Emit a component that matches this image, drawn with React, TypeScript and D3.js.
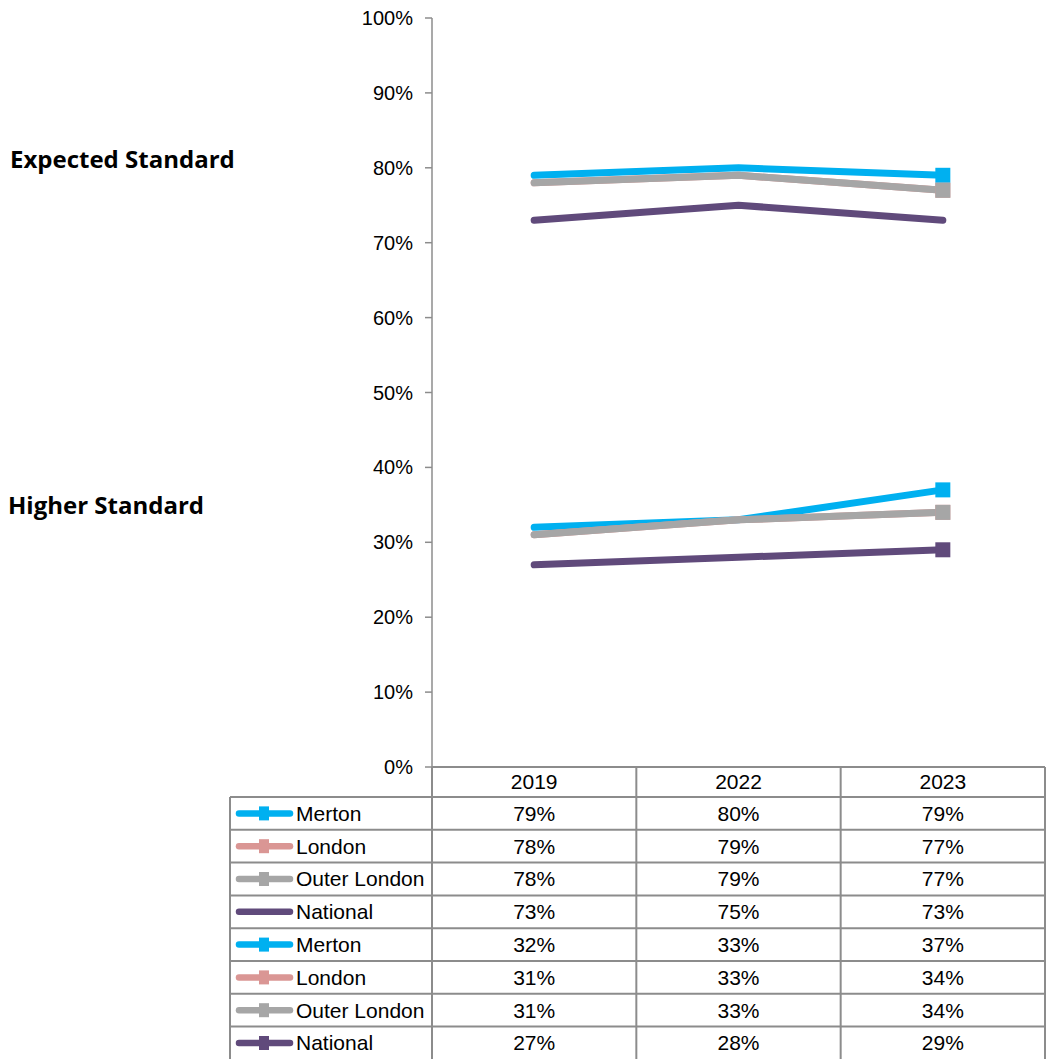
import React from "react";
import * as d3 from "d3";

// Attainment by year, two measures, four comparison groups
const years = ["2019", "2022", "2023"];
const groups = ["Merton", "London", "Outer London", "National"];
const groupColors = ["#00B0F0", "#DA9694", "#A6A6A6", "#604A7B"];

const expectedValues = [
  [79, 80, 79],
  [78, 79, 77],
  [78, 79, 77],
  [73, 75, 73],
];
const higherValues = [
  [32, 33, 37],
  [31, 33, 34],
  [31, 33, 34],
  [27, 28, 29],
];
// whether the series carries a marker on its final point
const expectedMarkers = [true, true, true, false];
const higherMarkers = [true, true, true, true];

const yTicks = [0, 10, 20, 30, 40, 50, 60, 70, 80, 90, 100];
const sectionTitles = ["Expected Standard", "Higher Standard"];

const W = 1051;
const H = 1059;
const axisX = 432;
const plotRight = 1045;
const plotTop = 18;
const plotBottom = 767;
const headerH = 30;
const rowH = 32.8;
const tableLeft = 230;

const FONT = "'Liberation Sans', Arial, sans-serif";

export default function App() {
  const x = d3
    .scaleBand<string>()
    .domain(years)
    .range([axisX, plotRight]);
  const y = d3.scaleLinear().domain([0, 100]).range([plotBottom, plotTop]);
  const line = d3
    .line<number>()
    .x((_, i) => (x(years[i]) as number) + x.bandwidth() / 2)
    .y((d) => y(d));

  const series = [
    ...expectedValues.map((v, i) => ({ v, color: groupColors[i], name: groups[i], marker: expectedMarkers[i] })),
    ...higherValues.map((v, i) => ({ v, color: groupColors[i], name: groups[i], marker: higherMarkers[i] })),
  ];

  const lineW = 7;
  const mk = 15;
  const tableTop = plotBottom + headerH;
  const borderColor = "#8C8C8C";
  const tableFont = 21;

  return (
    <svg
      width={W}
      height={H}
      style={{ position: "absolute", left: 0, top: 0, background: "#fff" }}
      fontFamily={FONT}
    >
      {/* section titles */}
      <text x={10} y={168} fontFamily="'Open Sans', Lato, sans-serif" fontWeight={700} fontSize={24} fill="#000">
        {sectionTitles[0]}
      </text>
      <text x={8} y={514} fontFamily="'Open Sans', Lato, sans-serif" fontWeight={700} fontSize={24} fill="#000">
        {sectionTitles[1]}
      </text>

      {/* y axis */}
      <line x1={axisX} x2={axisX} y1={plotTop} y2={plotBottom} stroke={borderColor} strokeWidth={1.5} />
      {yTicks.map((t) => (
        <g key={t}>
          <line x1={axisX - 7} x2={axisX} y1={y(t)} y2={y(t)} stroke={borderColor} strokeWidth={1.5} />
          <text x={413} y={y(t)} dy="0.35em" textAnchor="end" fontSize={20} fill="#000">
            {t}%
          </text>
        </g>
      ))}

      {/* lines */}
      {series.map((s, i) => (
        <path
          key={i}
          d={line(s.v) as string}
          fill="none"
          stroke={s.color}
          strokeWidth={lineW}
          strokeLinecap="round"
          strokeLinejoin="round"
        />
      ))}
      {series.map((s, i) =>
        s.marker ? (
          <rect
            key={i}
            x={(x(years[2]) as number) + x.bandwidth() / 2 - mk / 2}
            y={y(s.v[2]) - mk / 2}
            width={mk}
            height={mk}
            fill={s.color}
          />
        ) : null
      )}

      {/* data table */}
      <g>
        {years.map((yr) => (
          <text
            key={yr}
            x={(x(yr) as number) + x.bandwidth() / 2}
            y={plotBottom + headerH / 2}
            dy="0.35em"
            textAnchor="middle"
            fontSize={tableFont}
          >
            {yr}
          </text>
        ))}
        {series.map((s, r) => {
          const cy = tableTop + rowH * r + rowH / 2;
          return (
            <g key={r}>
              <line x1={239} x2={290} y1={cy} y2={cy} stroke={s.color} strokeWidth={6.5} strokeLinecap="round" />
              {s.marker ? (
                <rect x={259} y={cy - 7} width={10} height={14} fill={s.color} />
              ) : null}
              <text x={296} y={cy} dy="0.35em" fontSize={tableFont}>
                {s.name}
              </text>
              {s.v.map((v, c) => (
                <text
                  key={c}
                  x={(x(years[c]) as number) + x.bandwidth() / 2}
                  y={cy}
                  dy="0.35em"
                  textAnchor="middle"
                  fontSize={tableFont}
                >
                  {v}%
                </text>
              ))}
            </g>
          );
        })}
        {/* grid lines */}
        <line x1={axisX} x2={plotRight} y1={plotBottom} y2={plotBottom} stroke={borderColor} strokeWidth={2} />
        {series.map((_, r) => (
          <line
            key={r}
            x1={tableLeft}
            x2={plotRight}
            y1={tableTop + rowH * r}
            y2={tableTop + rowH * r}
            stroke={borderColor}
            strokeWidth={2}
          />
        ))}
        <line x1={tableLeft} x2={tableLeft} y1={tableTop} y2={H} stroke={borderColor} strokeWidth={2} />
        {[...years.map((yr) => x(yr) as number), plotRight].map((xx, i) => (
          <line key={i} x1={xx} x2={xx} y1={plotBottom} y2={H} stroke={borderColor} strokeWidth={2} />
        ))}
      </g>
    </svg>
  );
}
